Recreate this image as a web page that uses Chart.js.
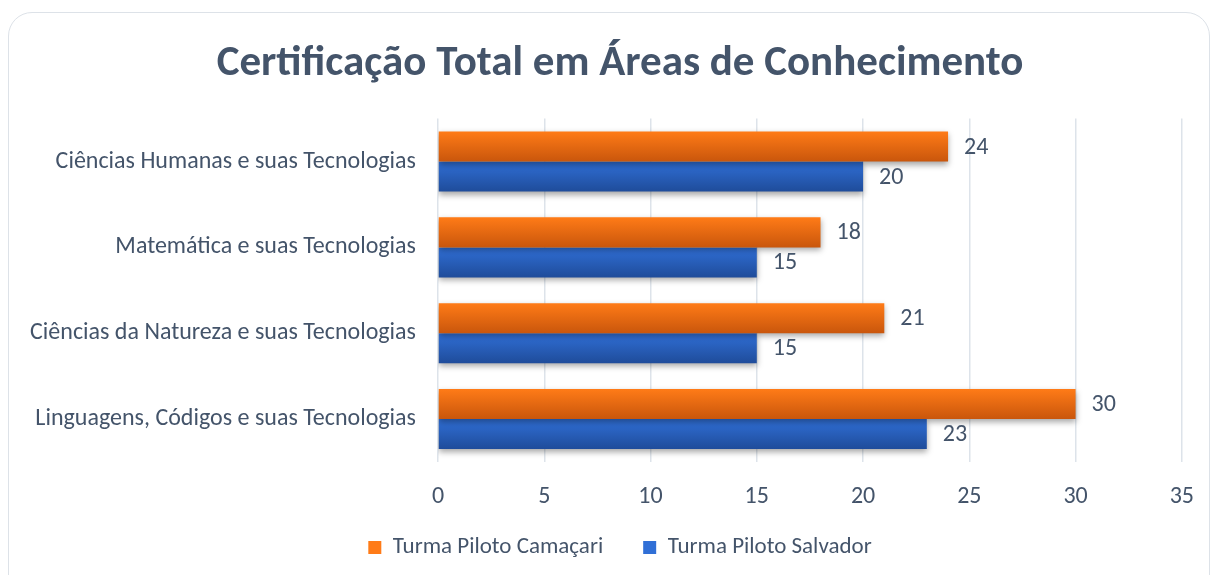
<!DOCTYPE html>
<html lang="pt-BR">
<head>
<meta charset="utf-8">
<title>Certificação Total em Áreas de Conhecimento</title>
<script src="https://cdn.jsdelivr.net/npm/chart.js@4.4.1/dist/chart.umd.min.js"></script>
<style>
  html, body { margin: 0; padding: 0; background: #ffffff; overflow: hidden; }
  #frame {
    position: absolute; left: 8px; top: 12px; width: 1202px; height: 600px;
    border: 1px solid #DDE2E8; border-radius: 24px; box-sizing: border-box;
  }
  #wrap { position: absolute; left: 0; top: 0; width: 1215px; height: 575px; }
</style>
</head>
<body>
<div id="frame"></div>
<div id="wrap"><canvas id="certChart" width="1215" height="575"></canvas></div>
<script>
// --- DATA ---
const categories = [
  'Ciências Humanas e suas Tecnologias',
  'Matemática e suas Tecnologias',
  'Ciências da Natureza e suas Tecnologias',
  'Linguagens, Códigos e suas Tecnologias'
];
const seriesNames = ['Turma Piloto Camaçari', 'Turma Piloto Salvador'];
const camacariValues = [24, 18, 21, 30];
const salvadorValues = [20, 15, 15, 23];
const xTicks = [0, 5, 10, 15, 20, 25, 30, 35];

const TEXT_COLOR = '#44546A';
const FONT = 'Carlito, Lato, "Open Sans", sans-serif';
const LABEL_SIZE = 24;
const CAT_PCT = 0.7;

// gradient stops per dataset (top -> bottom of the bar)
const GRADIENTS = [
  ['#FF7B17', '#C9560C'],
  ['#306FD6', '#1F4C9A']
];

// --- BAR GRADIENT ---
function barGradient(context) {
  const chart = context.chart;
  const yScale = chart.scales.y;
  const stops = GRADIENTS[context.datasetIndex];
  if (!yScale || context.type !== 'data') return stops[0];
  const center = yScale.getPixelForValue(context.dataIndex);
  const band = (yScale.bottom - yScale.top) / categories.length;
  const half = band * CAT_PCT / 2;
  const top = context.datasetIndex === 0 ? center - half : center;
  const g = chart.ctx.createLinearGradient(0, top, 0, top + half);
  g.addColorStop(0, stops[0]);
  g.addColorStop(1, stops[1]);
  return g;
}

// tick labels may run outside the scale box (long category names, x labels)
function noLabelClip(scale) {
  scale._computeLabelArea = () => null;
}

// --- PLUGINS ---
const shadowPlugin = {
  id: 'barShadow',
  beforeDatasetsDraw(chart) {
    const ctx = chart.ctx;
    ctx.save();
    ctx.shadowColor = 'rgba(0,0,0,0.35)';
    ctx.shadowBlur = 6;
    ctx.shadowOffsetY = 3;
  },
  afterDatasetsDraw(chart) {
    chart.ctx.restore();
  }
};

const valueLabels = {
  id: 'valueLabels',
  afterDatasetsDraw(chart) {
    const ctx = chart.ctx;
    ctx.save();
    ctx.font = LABEL_SIZE + 'px ' + FONT;
    ctx.fillStyle = TEXT_COLOR;
    ctx.textAlign = 'left';
    ctx.textBaseline = 'middle';
    chart.data.datasets.forEach((ds, di) => {
      const meta = chart.getDatasetMeta(di);
      meta.data.forEach((bar, i) => {
        ctx.fillText(String(ds.data[i]), bar.x + 16, bar.y + 1);
      });
    });
    ctx.restore();
  }
};

// --- CHART ---
const ctx = document.getElementById('certChart').getContext('2d');
const certChart = new Chart(ctx, {
  type: 'bar',
  data: {
    labels: categories,
    datasets: [
      { label: seriesNames[0], data: camacariValues, backgroundColor: barGradient,
        categoryPercentage: CAT_PCT, barPercentage: 1 },
      { label: seriesNames[1], data: salvadorValues, backgroundColor: barGradient,
        categoryPercentage: CAT_PCT, barPercentage: 1 }
    ]
  },
  options: {
    indexAxis: 'y',
    responsive: false,
    animation: false,
    layout: { padding: { left: 50, right: 25, top: 10, bottom: 6 } },
    plugins: {
      title: {
        display: true,
        text: 'Certificação Total em Áreas de Conhecimento',
        color: TEXT_COLOR,
        font: { family: FONT, size: 43, weight: 'bold' },
        padding: { top: 28, bottom: 29 }
      },
      legend: {
        position: 'bottom',
        labels: {
          color: TEXT_COLOR,
          font: { family: FONT, size: 23 },
          boxWidth: 13,
          boxHeight: 13,
          padding: 40,
          generateLabels(chart) {
            return chart.data.datasets.map((ds, i) => ({
              text: ds.label,
              fillStyle: GRADIENTS[i][0],
              strokeStyle: 'rgba(0,0,0,0)',
              lineWidth: 0,
              fontColor: TEXT_COLOR,
              datasetIndex: i,
              hidden: false
            }));
          }
        }
      },
      tooltip: { enabled: false }
    },
    scales: {
      x: {
        min: 0,
        max: 35,
        afterBuildTicks(scale) { scale.ticks = xTicks.map(v => ({ value: v })); },
        grid: { color: '#DDE3EA', lineWidth: 1.5, drawTicks: false },
        border: { display: false },
        ticks: { color: TEXT_COLOR, font: { family: FONT, size: LABEL_SIZE }, padding: 21 },
        afterFit(scale) { scale.height = 34; noLabelClip(scale); }
      },
      y: {
        grid: { display: false },
        border: { display: false },
        ticks: { color: TEXT_COLOR, font: { family: FONT, size: LABEL_SIZE }, padding: 14 },
        afterFit(scale) { scale.width = 388; noLabelClip(scale); }
      }
    }
  },
  plugins: [shadowPlugin, valueLabels]
});
</script>
</body>
</html>
